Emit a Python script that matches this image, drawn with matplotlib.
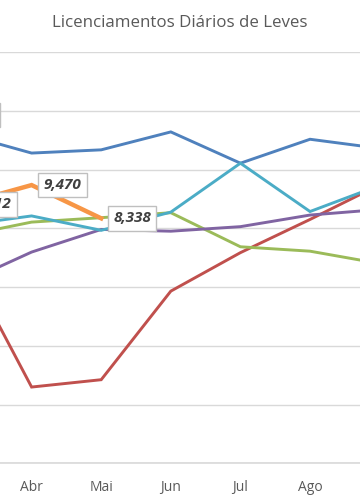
"""
Licenciamentos Diários de Leves -- cropped Excel-style line chart
"""
import numpy as np
import matplotlib
matplotlib.use("Agg")
import matplotlib.pyplot as plt

# ── Palette (Excel 2010 defaults) ─────────────────────────────────────────────
BLUE   = "#4F81BD"
RED    = "#C0504D"
GREEN  = "#9BBB59"
PURPLE = "#8064A2"
AQUA   = "#4BACC6"
ORANGE = "#F79646"
GRID   = "#D9D9D9"
TEXT   = "#595959"
LABEL  = "#404040"

plt.rcParams["font.family"] = ["Open Sans", "DejaVu Sans"]

# ── Data ──────────────────────────────────────────────────────────────────────
months = ["Fev", "Mar", "Abr", "Mai", "Jun", "Jul", "Ago", "Set"]
nan = np.nan

serie_azul    = [nan, 11220, 10560, 10670, 11280, 10215, 11030, 10720]
serie_laranja = [11860, 8812, 9470, 8338, nan, nan, nan, nan]
serie_verde   = [nan, 7730, 8210, 8360, 8530, 7370, 7220, 6800]
serie_roxa    = [nan, 6110, 7190, 7960, 7900, 8055, 8450, 8640]
serie_aqua    = [nan, 8100, 8420, 7930, 8550, 10215, 8570, 9460]
serie_vermelha = [nan, 7080, 2595, 2845, 5860, 7170, 8300, 9480]

# labelled points of the orange series (index into months)
label_idx = [0, 1, 2, 3]

# ── Figure ────────────────────────────────────────────────────────────────────
fig = plt.figure(figsize=(3.6, 5.04), dpi=100, facecolor="white")
ax = fig.add_axes([0.0, 0.0808, 1.0, 0.816])
ax.set_facecolor("white")

x = np.arange(len(months))
ax.plot(x, serie_azul, color=BLUE, lw=2.1, zorder=3, solid_joinstyle="miter")
ax.plot(x, serie_vermelha, color=RED, lw=2.1, zorder=3, solid_joinstyle="miter")
ax.plot(x, serie_verde, color=GREEN, lw=2.1, zorder=3, solid_joinstyle="miter")
ax.plot(x, serie_roxa, color=PURPLE, lw=2.1, zorder=3, solid_joinstyle="miter")
ax.plot(x, serie_aqua, color=AQUA, lw=2.1, zorder=3, solid_joinstyle="miter")
ax.plot(x, serie_laranja, color=ORANGE, lw=3.2, zorder=4, solid_joinstyle="miter")

ax.set_xticks(x)
ax.set_xticklabels(months, color=TEXT, fontsize=10)
ax.tick_params(axis="x", length=0, pad=12)
ax.set_yticks(np.arange(0, 14001, 2000))
ax.yaxis.grid(True, color=GRID, lw=1.0, zorder=0)
ax.set_yticklabels([])
ax.tick_params(axis="y", length=0)
ax.set_xlim(1.546, 6.718)
ax.set_ylim(0, 14000)
ax.axhline(0, color=GRID, lw=1.2, zorder=1, clip_on=False)

# data labels on the orange series
for i in label_idx:
    v = serie_laranja[i]
    dx = 12 if i > 0 else 56
    ax.annotate(f"{v:,.0f}", xy=(x[i], v), xytext=(dx, 0),
                textcoords="offset pixels", ha="left", va="center",
                fontsize=11, fontweight="bold", style="italic", color=LABEL,
                bbox=dict(boxstyle="square,pad=0.35", fc="white",
                          ec="#BFBFBF", lw=1.0),
                zorder=6, annotation_clip=False)

for s in ax.spines.values():
    s.set_visible(False)

fig.text(0.5, 1 - 23 / 504, "Licenciamentos Diários de Leves",
         ha="center", va="center", fontsize=12.2, color=TEXT)

fig.savefig("out.png", dpi=100, facecolor="white")
